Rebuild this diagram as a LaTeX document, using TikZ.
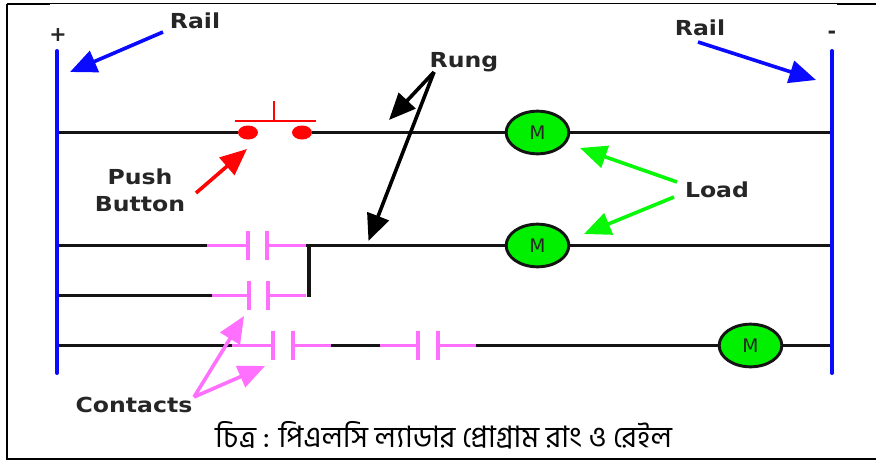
\documentclass[tikz,border=0pt]{standalone}
\usepackage{fontspec}
\usetikzlibrary{arrows.meta,shapes.geometric}
\newfontfamily\lblfont{DejaVu Sans}[BoldFont={DejaVu Sans Bold}]
\newfontfamily\bnfont[Script=Bengali]{Hind Siliguri}
\newcommand{\lbl}[1]{\scalebox{1.14}[1]{#1}}
\definecolor{railblue}{HTML}{0A0AFF}
\definecolor{pinkc}{HTML}{FF70FF}
\definecolor{motorg}{HTML}{00F000}
\definecolor{arrowg}{HTML}{08F808}
\definecolor{redc}{HTML}{FF0404}
\definecolor{lblc}{HTML}{262626}
\tikzset{
  px/.style={x=0.75pt,y=-0.75pt},
  railline/.style={draw=railblue,line width=3pt,line cap=round},
  wire/.style={draw=black!92,line width=2.2pt},
  pinkwire/.style={draw=pinkc,line width=2.2pt},
  pinkbar/.style={draw=pinkc,line width=3.2pt},
  redline/.style={draw=redc,line width=2.2pt},
  callout/.style={line width=2.7pt,-{Triangle[length=20pt,width=17pt]}},
  lab/.style={font=\fontsize{15.5}{20}\selectfont\bfseries\lblfont,text=lblc,inner sep=0pt,align=center},
  motor/.style={ellipse,draw=black!92,line width=2.2pt,fill=motorg,minimum width=47pt,minimum height=32pt,inner sep=0pt,text=black!85,font=\fontsize{14}{14}\selectfont\lblfont},
  pbdot/.style={ellipse,fill=redc,minimum width=15pt,minimum height=10.5pt,inner sep=0pt},
}
\begin{document}
\begin{tikzpicture}[px]
\useasboundingbox (0,0) rectangle (876,461);
\fill[white] (0,0) rectangle (876,461);
% frame
\coordinate (fTL) at (7,3.5);
\coordinate (fBL) at (7,459);
\coordinate (fBR) at (876,459);
\coordinate (fTR) at (876,3.5);
\draw[draw=black,line width=1pt] (fTL) -- (fTR);
\draw[draw=black,line width=2pt] (fTL) -- (fBL) -- (fBR);
\coordinate (ftla) at (7,4.3); \coordinate (ftlb) at (50,4.3);
\coordinate (ftra) at (837,4.3); \coordinate (ftrb) at (876,4.3);
\draw[draw=black,line width=1.6pt] (ftla) -- (ftlb);
\draw[draw=black,line width=1.6pt] (ftra) -- (ftrb);
% rung coordinates
\coordinate (l1) at (57,132.5); \coordinate (r1) at (832,132.5);
\coordinate (l2) at (57,245.5); \coordinate (r2) at (832,245.5);
\coordinate (l3) at (57,295.5);
\coordinate (l4) at (57,345.5); \coordinate (r4) at (832,345.5);
% motors
\node[motor] (m1) at (537.5,132.5) {M};
\node[motor] (m2) at (537.5,245.5) {M};
\node[motor] (m3) at (750.5,345.5) {M};
% push button
\node[pbdot] (pa) at (248,132.5) {};
\node[pbdot] (pb) at (302,132.5) {};
\draw[wire] (l1) -- (pa);
\draw[wire] (pb) -- (m1);
\draw[wire] (m1) -- (r1);
\coordinate (pbl) at (235,121); \coordinate (pbr) at (316,121);
\coordinate (pbm) at (274,121); \coordinate (pbt) at (274,101);
\draw[redline] (pbl) -- (pbr);
\draw[redline] (pbm) -- (pbt);
% rung 2
\coordinate (a1) at (207,245.5); \coordinate (a2) at (248,245.5); \coordinate (a3) at (267,245.5); \coordinate (a4) at (306,245.5);
\coordinate (a2t) at (248,231); \coordinate (a2b) at (248,260); \coordinate (a3t) at (267,231); \coordinate (a3b) at (267,260);
\draw[wire] (l2) -- (a1);
\draw[pinkwire] (a1) -- (a2);
\draw[pinkwire] (a3) -- (a4);
\draw[pinkbar] (a2t) -- (a2b);
\draw[pinkbar] (a3t) -- (a3b);
\draw[wire] (a4) -- (m2);
\draw[wire] (m2) -- (r2);
% rung 2b
\coordinate (b1) at (212,295.5); \coordinate (b2) at (249,295.5); \coordinate (b3) at (268,295.5); \coordinate (b4) at (306,295.5);
\coordinate (b2t) at (249,281); \coordinate (b2b) at (249,310); \coordinate (b3t) at (268,281); \coordinate (b3b) at (268,310);
\draw[wire] (l3) -- (b1);
\draw[pinkwire] (b1) -- (b2);
\draw[pinkwire] (b3) -- (b4);
\draw[pinkbar] (b2t) -- (b2b);
\draw[pinkbar] (b3t) -- (b3b);
\coordinate (va) at (308.5,245); \coordinate (vb) at (308.5,297);
\draw[draw=black!92,line width=3pt] (va) -- (vb);
% rung 3
\coordinate (c1) at (232,345.5); \coordinate (c2) at (273,345.5); \coordinate (c3) at (293,345.5); \coordinate (c4) at (331,345.5);
\coordinate (c2t) at (273,331); \coordinate (c2b) at (273,360); \coordinate (c3t) at (293,331); \coordinate (c3b) at (293,360);
\coordinate (d1) at (380,345.5); \coordinate (d2) at (418,345.5); \coordinate (d3) at (438,345.5); \coordinate (d4) at (476,345.5);
\coordinate (d2t) at (418,331); \coordinate (d2b) at (418,360); \coordinate (d3t) at (438,331); \coordinate (d3b) at (438,360);
\draw[wire] (l4) -- (c1);
\draw[pinkwire] (c1) -- (c2);
\draw[pinkwire] (c3) -- (c4);
\draw[pinkbar] (c2t) -- (c2b);
\draw[pinkbar] (c3t) -- (c3b);
\draw[wire] (c4) -- (d1);
\draw[pinkwire] (d1) -- (d2);
\draw[pinkwire] (d3) -- (d4);
\draw[pinkbar] (d2t) -- (d2b);
\draw[pinkbar] (d3t) -- (d3b);
\draw[wire] (d4) -- (m3);
\draw[wire] (m3) -- (r4);
% rails
\coordinate (lt) at (57,51); \coordinate (lb) at (57,373);
\coordinate (rt) at (832,51); \coordinate (rb) at (832,373);
\draw[railline] (lt) -- (lb);
\draw[railline] (rt) -- (rb);
% labels
\node[lab] (plus) at (58,35) {+};
\node[lab] (minus) at (832,35) {-};
\node[lab] (rail1) at (195,20.5) {\lbl{Rail}};
\node[lab] (rail2) at (700,28) {\lbl{Rail}};
\node[lab] (rung) at (464,62) {\lbl{Rung}};
\node[lab] (push) at (140,176.5) {\lbl{Push}};
\node[lab] (button) at (140,204) {\lbl{Button}};
\node[lab] (load) at (717,190) {\lbl{Load}};
\node[lab] (contacts) at (134,405) {\lbl{Contacts}};
% callouts
\coordinate (s1) at (163,32); \coordinate (t1) at (70,72);
\draw[callout,draw=railblue,fill=railblue] (s1) -- (t1);
\coordinate (s2) at (698,42); \coordinate (t2) at (816,80);
\draw[callout,draw=railblue,fill=railblue] (s2) -- (t2);
\coordinate (s3) at (196,193); \coordinate (t3) at (247,149);
\draw[callout,draw=redc,fill=redc] (s3) -- (t3);
\coordinate (s4) at (434,72); \coordinate (t4) at (389,120); \coordinate (t5) at (368.5,241);
\draw[callout,draw=black,fill=black] (s4) -- (t4);
\draw[callout,draw=black,fill=black] (s4) -- (t5);
\coordinate (s6) at (677,182); \coordinate (t6) at (580,148);
\draw[callout,draw=arrowg,fill=arrowg] (s6) -- (t6);
\coordinate (s7) at (674,197); \coordinate (t7) at (584,234);
\draw[callout,draw=arrowg,fill=arrowg] (s7) -- (t7);
\coordinate (s8) at (194,397); \coordinate (t8) at (244,316); \coordinate (t9) at (265,366);
\draw[callout,draw=pinkc,fill=pinkc] (s8) -- (t8);
\draw[callout,draw=pinkc,fill=pinkc] (s8) -- (t9);
% caption
\node[inner sep=0pt,text=black,font=\fontsize{22.2}{26}\selectfont\bnfont] (cap) at (443.5,435) {চিত্র : পিএলসি ল্যাডার প্রোগ্রাম রাং ও রেইল};
\end{tikzpicture}
\end{document}
